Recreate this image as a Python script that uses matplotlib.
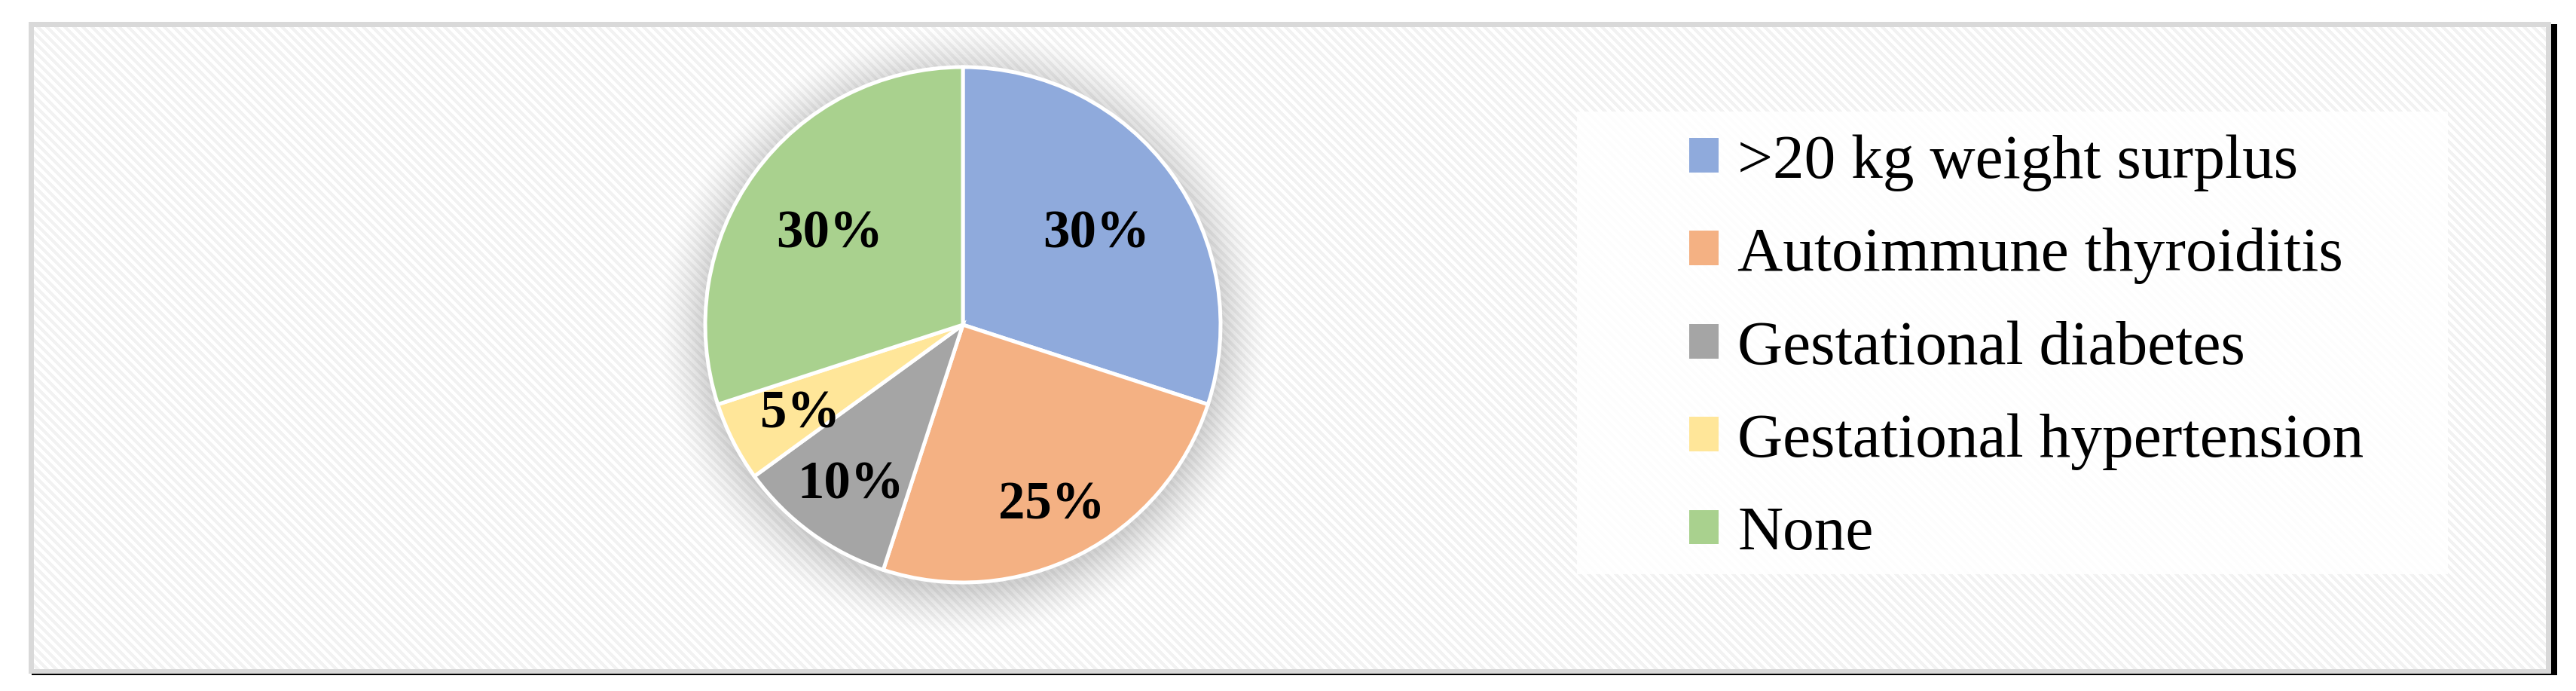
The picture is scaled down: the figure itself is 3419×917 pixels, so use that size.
import numpy as np
import matplotlib.pyplot as plt
from matplotlib.patches import Rectangle

# data
labels = ['>20 kg weight surplus', 'Autoimmune thyroiditis', 'Gestational diabetes',
          'Gestational hypertension', 'None']
shares = [30, 25, 10, 5, 30]
colors = ['#8faadc', '#f4b183', '#a5a5a5', '#ffe699', '#a9d18e']

# where the percent labels sit, as fraction of the radius
label_r = [0.64, 0.76, 0.74, 0.71, 0.64]

W, H = 3419, 917
cx, cy, r = 1278, 431, 342

fig = plt.figure(figsize=(W / 100, H / 100), dpi=100)

# background: frame, diagonal stripes and the soft shadow behind the pie
bg = fig.add_axes([0, 0, 1, 1])
bg.set_axis_off()
yy, xx = np.mgrid[0:H, 0:W]
inner = np.ones((H, W))
inner[((xx - yy) // 6) % 2 == 0] = 0.949
d = np.hypot(xx - cx, yy - (cy + 8))
s = np.clip(1 - (d - r) / 66, 0, 1)
inner = inner * (1 - 0.17 * s ** 1.5)

img = np.ones((H, W))
img[32:896, 42:3394] = 0.0
img[29:894, 38:3386] = 0.851
img[36:888, 45:3379] = inner[36:888, 45:3379]
bg.imshow(img, cmap='gray', vmin=0, vmax=1, extent=(0, W, H, 0),
          interpolation='nearest', aspect='auto')
bg.set_xlim(0, W)
bg.set_ylim(H, 0)

# legend panel
bg.add_patch(Rectangle((2093, 148), 1156, 614, facecolor='white', alpha=0.88, lw=0))

# pie
ax = fig.add_axes([(cx - r) / W, 1 - (cy + r) / H, 2 * r / W, 2 * r / H])
wedges, _ = ax.pie(shares, colors=colors, startangle=90, counterclock=False,
                   wedgeprops=dict(edgecolor='white', linewidth=3.6))
for w in wedges:
    w.set_clip_on(False)
ax.set_xlim(-1, 1)
ax.set_ylim(-1, 1)

for w, v, f in zip(wedges, shares, label_r):
    a = np.deg2rad((w.theta1 + w.theta2) / 2)
    ax.text(f * np.cos(a), f * np.sin(a) - 0.025, str(v) + '%', ha='center', va='center',
            fontsize=51, fontweight='bold', family='Liberation Serif', color='black')

handles = [Rectangle((0, 0), 1, 1, facecolor=c, lw=0) for c in colors]
fig.legend(handles, labels, loc='upper left', bbox_to_anchor=(2242 / W, 1 - 178 / H),
           frameon=False, prop=dict(family='Liberation Serif', size=60),
           handlelength=0.47, handleheight=0.47, handletextpad=0.3,
           labelspacing=0.575, borderpad=0, borderaxespad=0)

fig.savefig('out.png', dpi=100)
